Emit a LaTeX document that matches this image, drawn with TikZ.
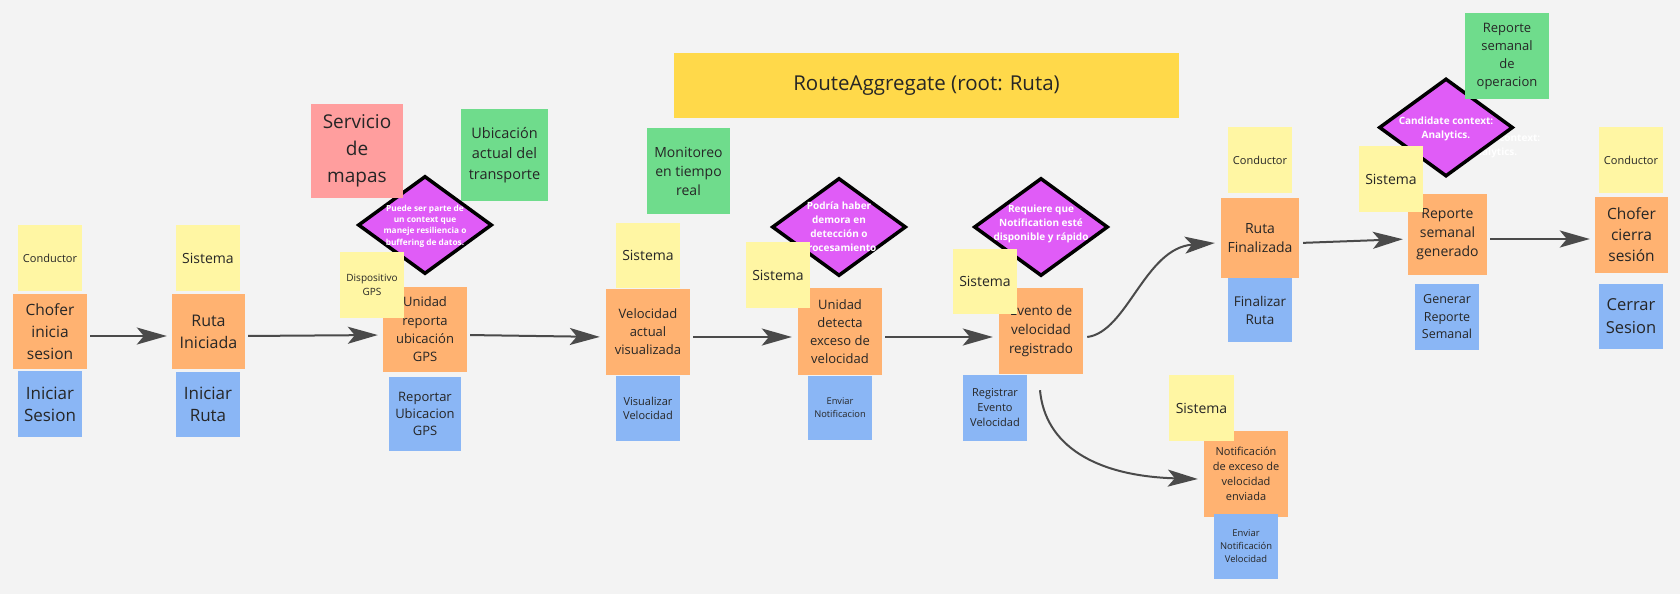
\documentclass[tikz,border=0pt]{standalone}
\usepackage{fontspec}
\setmainfont{Open Sans}
\usepackage{tikz}
\usetikzlibrary{shapes.geometric, arrows.meta}
\definecolor{canvas}{HTML}{F3F3F3}
\definecolor{ink}{HTML}{262626}
\definecolor{stickyyellow}{HTML}{FFF6A3}
\definecolor{stickyorange}{HTML}{FFB271}
\definecolor{stickyblue}{HTML}{8AB6F5}
\definecolor{stickygreen}{HTML}{6FDC8C}
\definecolor{stickypink}{HTML}{FF9E9E}
\definecolor{titleyellow}{HTML}{FFD94A}
\definecolor{hotpurple}{HTML}{E05CF7}
\definecolor{arrowgray}{HTML}{4A4A4A}
\newcommand{\fsz}[2]{\fontsize{#1}{#2}\selectfont}

\begin{document}
\begin{tikzpicture}[x=1pt, y=-1pt]
% Define styles
\tikzstyle{sticky} = [rectangle, inner sep=0pt, align=center, text=ink]
\tikzstyle{actor} = [sticky, fill=stickyyellow, minimum width=64pt, minimum height=66pt]
\tikzstyle{event} = [sticky, fill=stickyorange]
\tikzstyle{command} = [sticky, fill=stickyblue, minimum width=64pt, minimum height=65pt]
\tikzstyle{readmodel} = [sticky, fill=stickygreen]
\tikzstyle{external} = [sticky, fill=stickypink]
\tikzstyle{hotspot} = [diamond, draw=black, line width=3.5pt, fill=hotpurple, minimum width=134pt, minimum height=98pt, inner sep=0pt]
\tikzstyle{hottext} = [align=center, text=white, font=\bfseries\fsz{10}{14}]
\tikzstyle{arrow} = [line width=2pt, draw=arrowgray, -{Stealth[length=30pt,width=17pt,inset=7pt]}]
% Canvas
\fill[canvas] (0,0) rectangle (1680,594);
\useasboundingbox (0,0) rectangle (1680,594);
% Aggregate title
\node (agg) [sticky, fill=titleyellow, minimum width=505pt, minimum height=65pt, font=\fsz{20.5}{26}] at (926.5,85.5) {RouteAggregate (root: Ruta)};
% Hot spots
\node (d1) [hotspot] at (425,225) {};
\node [hottext, font=\bfseries\fsz{8.3}{11.3}] at (425,226) {Puede ser parte de\\un context que\\maneje resiliencia o\\buffering de datos.};
\node (d2) [hotspot] at (839,227) {};
\node [hottext] at (839,227.5) {Podría haber\\demora en\\detección o\\procesamiento};
\node (d3) [hotspot] at (1041,227) {};
\node [hottext] at (1041,224) {Requiere que\\Notification esté\\disponible y rápido};
\node [hottext] at (1493,146) {Candidate context:\\Analytics.};
\node (d4) [hotspot] at (1446,127.5) {};
\node [hottext] at (1446,129) {Candidate context:\\Analytics.};
% Domain events
\node (o1) [event, minimum width=74pt, minimum height=75pt, font=\fsz{15.5}{21.7}] at (50,331.5) {Chofer\\inicia\\sesion};
\node (o2) [event, minimum width=73pt, minimum height=75pt, font=\fsz{16}{22}] at (208.5,331.5) {Ruta\\Iniciada};
\node (o3) [event, minimum width=84pt, minimum height=85pt, font=\fsz{13}{18.3}] at (425,329.5) {Unidad\\reporta\\ubicación\\GPS};
\node (o4) [event, minimum width=84pt, minimum height=86pt, font=\fsz{13}{18}] at (648,332) {Velocidad\\actual\\visualizada};
\node (o5) [event, minimum width=84pt, minimum height=87pt, font=\fsz{13}{18}] at (840,331.5) {Unidad\\detecta\\exceso de\\velocidad};
\node (o6) [event, minimum width=84pt, minimum height=86pt, font=\fsz{13.5}{19}] at (1041,331) {Evento de\\velocidad\\registrado};
\node (o7) [event, minimum width=84pt, minimum height=86pt, font=\fsz{11}{15}] at (1246,474) {Notificación\\de exceso de\\velocidad\\enviada};
\node (o8) [event, minimum width=78pt, minimum height=80pt, font=\fsz{14}{19}] at (1260,238) {Ruta\\Finalizada};
\node (o9) [event, minimum width=79pt, minimum height=81pt, font=\fsz{14}{19}] at (1447.5,234.5) {Reporte\\semanal\\generado};
\node (o10) [event, minimum width=73pt, minimum height=76pt, font=\fsz{15.5}{21}] at (1631.5,235) {Chofer\\cierra\\sesión};
% Actors
\node (a1) [actor, font=\fsz{11}{14}] at (50,258) {Conductor};
\node (a2) [actor, font=\fsz{14}{18}] at (208,258) {Sistema};
\node (a3) [actor, font=\fsz{10}{13.7}] at (372,285) {Dispositivo\\GPS};
\node (a4) [actor, minimum height=65pt, font=\fsz{14}{18}] at (648,255.5) {Sistema};
\node (a5) [actor, font=\fsz{14}{18}] at (778,275) {Sistema};
\node (a6) [actor, minimum height=65pt, font=\fsz{14}{18}] at (985,281.5) {Sistema};
\node (a7) [actor, minimum width=65pt, font=\fsz{14}{18}] at (1201.5,408) {Sistema};
\node (a8) [actor, font=\fsz{11}{14}] at (1260,160) {Conductor};
\node (a9) [actor, font=\fsz{14}{18}] at (1391,179) {Sistema};
\node (a10) [actor, font=\fsz{11}{14}] at (1631,160) {Conductor};
% Commands
\node (c1) [command, minimum height=66pt, font=\fsz{17}{22}] at (50,404) {Iniciar\\Sesion};
\node (c2) [command, font=\fsz{17}{22}] at (208,404.5) {Iniciar\\Ruta};
\node (c3) [command, minimum width=72pt, minimum height=74pt, font=\fsz{13}{17.3}] at (425,414) {Reportar\\Ubicacion\\GPS};
\node (c4) [command, font=\fsz{11}{14.3}] at (648,408.5) {Visualizar\\Velocidad};
\node (c5) [command, minimum height=64pt, font=\fsz{9.3}{13}] at (840,408) {Enviar\\Notificacion};
\node (c6) [command, minimum height=66pt, font=\fsz{11}{15}] at (995,408) {Registrar\\Evento\\Velocidad};
\node (c7) [command, font=\fsz{9.4}{13}] at (1246,546.5) {Enviar\\Notificación\\Velocidad};
\node (c8) [command, minimum height=64pt, font=\fsz{13.5}{18}] at (1260,310) {Finalizar\\Ruta};
\node (c9) [command, minimum height=66pt, font=\fsz{12.5}{17.5}] at (1447,317) {Generar\\Reporte\\Semanal};
\node (c10) [command, font=\fsz{16.5}{23}] at (1631,316.5) {Cerrar\\Sesion};
% Read models and external system
\node (r1) [readmodel, minimum width=87pt, minimum height=92pt, font=\fsz{14.5}{20.3}] at (504.5,155) {Ubicación\\actual del\\transporte};
\node (r2) [readmodel, minimum width=83pt, minimum height=86pt, font=\fsz{14}{19}] at (688.5,171) {Monitoreo\\en tiempo\\real};
\node (r3) [readmodel, minimum width=84pt, minimum height=86pt, font=\fsz{13}{18}] at (1507,56) {Reporte\\semanal\\de\\operacion};
\node (x1) [external, minimum width=92pt, minimum height=94pt, font=\fsz{19}{26.7}] at (357,151) {Servicio\\de\\mapas};
% Draw arrows
\draw [arrow, shorten <=3pt, shorten >=5pt] ([yshift=-4.5pt]o1.east) -- ([yshift=-4.5pt]o2.west);
\draw [arrow, shorten <=3pt, shorten >=5pt] ([yshift=-4.5pt]o2.east) -- ([yshift=-5.5pt]o3.west);
\draw [arrow, shorten <=3pt, shorten >=6pt] ([yshift=-5.5pt]o3.east) -- ([yshift=-5pt]o4.west);
\draw [arrow, shorten <=3pt, shorten >=6pt] ([yshift=-5pt]o4.east) -- ([yshift=-5.5pt]o5.west);
\draw [arrow, shorten <=3pt, shorten >=6pt] ([yshift=-5.5pt]o5.east) -- ([yshift=-6pt]o6.west);
\draw [arrow] ([xshift=4pt,yshift=-6pt]o6.east) .. controls +(40,-5) and +(-70,5) .. ([xshift=-6pt,yshift=-5pt]o8.west);
\draw [arrow] ([xshift=-1pt,yshift=-16pt]o6.south) .. controls +(5,55) and +(-103,-3) .. ([xshift=-6pt,yshift=-5pt]o7.west);
\draw [arrow, shorten <=4pt, shorten >=5pt] ([yshift=-5pt]o8.east) -- ([yshift=-4.5pt]o9.west);
\draw [arrow, shorten <=3pt, shorten >=5pt] ([yshift=-4.5pt]o9.east) -- ([yshift=-4pt]o10.west);
\end{tikzpicture}
\end{document}
